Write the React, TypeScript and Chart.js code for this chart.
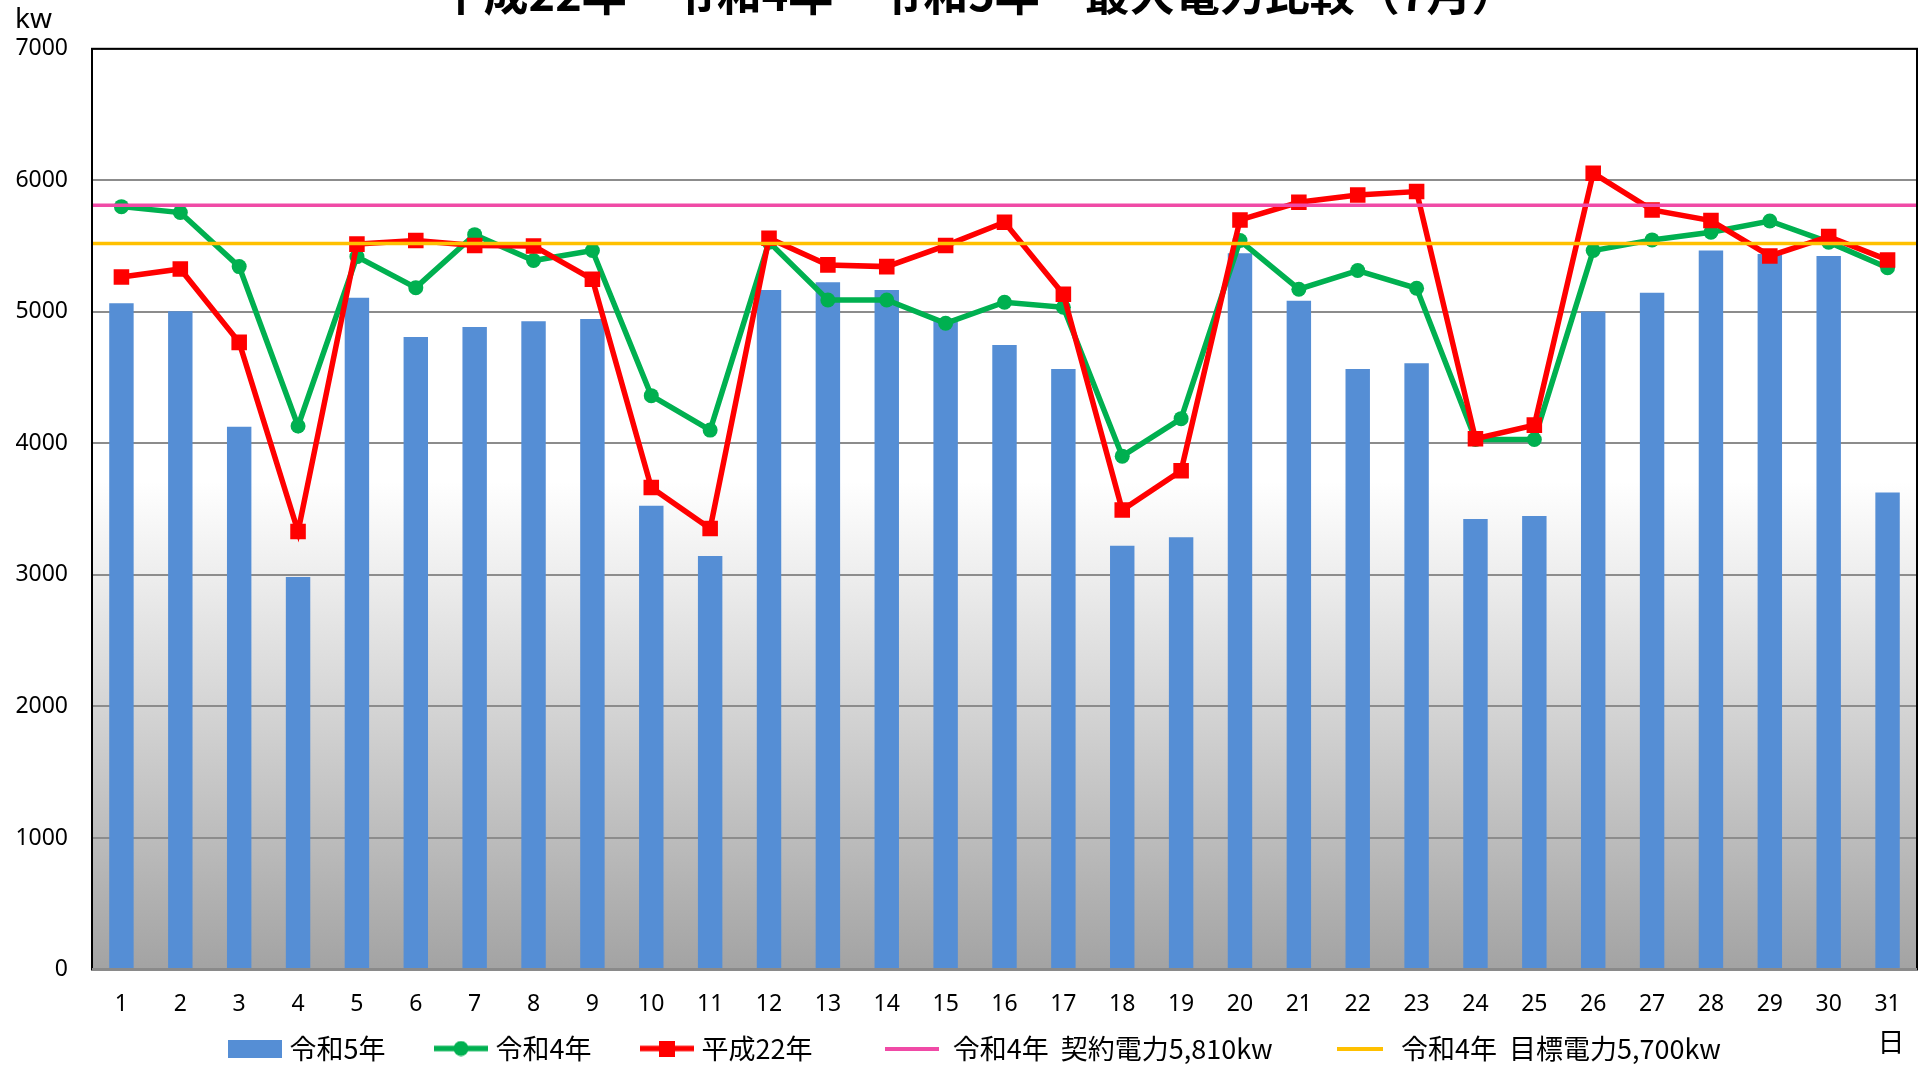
import React, { useEffect, useRef } from 'react';
import { Chart, registerables } from 'chart.js';

Chart.register(...registerables);

// ---- data ----
const days = ['1','2','3','4','5','6','7','8','9','10','11','12','13','14','15','16','17','18','19','20','21','22','23','24','25','26','27','28','29','30','31'];

const reiwa5 = [5065, 5005, 4127, 2985, 5108, 4809, 4885, 4928, 4946, 3525, 3144, 5166, 5225, 5166, 4950, 4748, 4565, 3222, 3287, 5445, 5085, 4565, 4609, 3426, 3447, 5002, 5146, 5466, 5440, 5425, 3627];
const reiwa4 = [5800, 5755, 5344, 4132, 5420, 5184, 5587, 5390, 5466, 4363, 4101, 5530, 5090, 5090, 4913, 5073, 5035, 3903, 4188, 5542, 5172, 5314, 5179, 4030, 4030, 5466, 5547, 5605, 5691, 5530, 5335];
const heisei22 = [5265, 5326, 4768, 3330, 5515, 5542, 5505, 5501, 5248, 3665, 3353, 5560, 5357, 5344, 5504, 5681, 5134, 3493, 3792, 5699, 5833, 5889, 5915, 4035, 4139, 6054, 5775, 5694, 5425, 5572, 5395];

const contractPower = [5810, 5810];
const targetPower = [5520, 5520];

const yTickValues = [0, 1000, 2000, 3000, 4000, 5000, 6000, 7000];

const seriesLabels = ['令和5年', '令和4年', '平成22年', '令和4年  契約電力5,810kw', '令和4年  目標電力5,700kw'];
const titleText = '平成22年　令和4年　令和5年　最大電力比較（7月）';

const CJK = '"Noto Sans CJK JP", "Noto Sans", sans-serif';
const LAT = '"Noto Sans", sans-serif';

const BLUE = '#558ed5';
const GREEN = '#00b050';
const RED = '#ff0000';
const PINK = '#f04aa6';
const ORANGE = '#ffc000';

const LEGEND_SHIFT_Y = 39;
const LEGEND_SHIFT_X = 10;
const TITLE_SHIFT_X = 10;

function makeIcon(kind: string): HTMLCanvasElement {
  const c = document.createElement('canvas');
  const ctx = c.getContext('2d')!;
  if (kind === 'box') {
    c.width = 54; c.height = 18;
    ctx.fillStyle = BLUE; ctx.fillRect(0, 0, 54, 18);
  } else if (kind === 'green') {
    c.width = 54; c.height = 16;
    ctx.strokeStyle = GREEN; ctx.lineWidth = 5.5;
    ctx.beginPath(); ctx.moveTo(0, 8); ctx.lineTo(54, 8); ctx.stroke();
    ctx.fillStyle = GREEN; ctx.beginPath(); ctx.arc(27, 8, 7.5, 0, Math.PI * 2); ctx.fill();
  } else if (kind === 'red') {
    c.width = 54; c.height = 16;
    ctx.strokeStyle = RED; ctx.lineWidth = 5.5;
    ctx.beginPath(); ctx.moveTo(0, 8); ctx.lineTo(54, 8); ctx.stroke();
    ctx.fillStyle = RED; ctx.fillRect(19, 0, 16, 16);
  } else if (kind === 'pink') {
    c.width = 54; c.height = 4;
    ctx.fillStyle = PINK; ctx.fillRect(0, 0, 54, 4);
  } else {
    c.width = 46; c.height = 4;
    ctx.fillStyle = ORANGE; ctx.fillRect(0, 0, 46, 4);
  }
  return c;
}

const decorPlugin = {
  id: 'decor',
  afterLayout(chart: any) {
    const lg = chart.legend;
    if (lg) {
      lg.top -= LEGEND_SHIFT_Y;
      lg.bottom -= LEGEND_SHIFT_Y;
      lg.left += LEGEND_SHIFT_X;
      lg.right += LEGEND_SHIFT_X;
    }
    const tb = chart.titleBlock;
    if (tb) {
      tb.left += TITLE_SHIFT_X;
      tb.right += TITLE_SHIFT_X;
    }
  },
  beforeDraw(chart: any) {
    const { ctx, chartArea: a } = chart;
    const g = ctx.createLinearGradient(0, a.top, 0, a.bottom);
    g.addColorStop(0, '#ffffff');
    g.addColorStop(0.47, '#ffffff');
    g.addColorStop(1, '#a3a3a3');
    ctx.save();
    ctx.fillStyle = g;
    ctx.fillRect(a.left, a.top, a.right - a.left, a.bottom - a.top);
    ctx.restore();
  },
  afterDatasetsDraw(chart: any) {
    const { ctx, chartArea: a } = chart;
    ctx.save();
    ctx.strokeStyle = '#000';
    ctx.lineWidth = 2;
    ctx.strokeRect(a.left, a.top, a.right - a.left, a.bottom - a.top);
    ctx.strokeStyle = '#8a8a8a';
    ctx.lineWidth = 3;
    ctx.beginPath();
    ctx.moveTo(a.left, a.bottom);
    ctx.lineTo(a.right, a.bottom);
    ctx.stroke();
    ctx.restore();
  },
  afterDraw(chart: any) {
    const { ctx, chartArea: a } = chart;
    ctx.save();
    ctx.fillStyle = '#000';
    ctx.font = `28px ${LAT}`;
    ctx.textAlign = 'left';
    ctx.textBaseline = 'alphabetic';
    ctx.fillText('kw', a.left - 77, a.top - 21);
    ctx.font = `27px ${CJK}`;
    ctx.textAlign = 'center';
    ctx.textBaseline = 'middle';
    ctx.fillText('日', a.right - 26, a.bottom + 72);
    ctx.restore();
  },
};

export default function App() {
  const ref = useRef<HTMLCanvasElement>(null);

  useEffect(() => {
    if (!ref.current) return;
    const icons = [makeIcon('box'), makeIcon('green'), makeIcon('red'), makeIcon('pink'), makeIcon('orange')];
    const legendTexts = [
      seriesLabels[0],
      seriesLabels[1],
      seriesLabels[2] + '    ',
      ' ' + seriesLabels[3] + '  ',
      ' ' + seriesLabels[4],
    ];
    const n = days.length;
    const chart = new Chart(ref.current, {
      type: 'bar',
      data: {
        labels: days,
        datasets: [
          {
            type: 'bar',
            label: seriesLabels[0],
            data: reiwa5,
            xAxisID: 'x',
            yAxisID: 'y',
            backgroundColor: BLUE,
            barPercentage: 0.415,
            categoryPercentage: 1,
            grouped: false,
            order: 5,
          } as any,
          {
            type: 'line',
            label: seriesLabels[1],
            data: reiwa4,
            xAxisID: 'x',
            yAxisID: 'y',
            borderColor: GREEN,
            backgroundColor: GREEN,
            borderWidth: 5.5,
            pointStyle: 'circle',
            pointRadius: 7.5,
            pointBorderWidth: 0,
            tension: 0,
            order: 4,
          },
          {
            type: 'line',
            label: seriesLabels[2],
            data: heisei22,
            xAxisID: 'x',
            yAxisID: 'y',
            borderColor: RED,
            backgroundColor: RED,
            borderWidth: 5.5,
            pointStyle: 'rect',
            pointRadius: 11,
            pointBorderWidth: 0,
            tension: 0,
            order: 3,
          },
          {
            type: 'line',
            label: seriesLabels[3],
            xAxisID: 'x2',
            yAxisID: 'y',
            data: [{ x: 0.5, y: contractPower[0] }, { x: n + 0.5, y: contractPower[1] }],
            borderColor: PINK,
            backgroundColor: PINK,
            borderWidth: 3.5,
            pointRadius: 0,
            order: 2,
          },
          {
            type: 'line',
            label: seriesLabels[4],
            xAxisID: 'x2',
            yAxisID: 'y',
            data: [{ x: 0.5, y: targetPower[0] }, { x: n + 0.5, y: targetPower[1] }],
            borderColor: ORANGE,
            backgroundColor: ORANGE,
            borderWidth: 3.5,
            pointRadius: 0,
            order: 1,
          },
        ],
      },
      options: {
        responsive: false,
        animation: false,
        events: [],
        layout: { padding: { left: 14, right: 7, top: 0, bottom: 0 } },
        scales: {
          x: {
            type: 'category',
            position: 'bottom',
            offset: true,
            grid: { display: false, drawTicks: false, offset: true },
            border: { display: false },
            ticks: {
              padding: 21,
              color: '#000',
              font: { size: 23, family: LAT },
              maxRotation: 0,
              autoSkip: false,
            },
            afterFit(s: any) { s.height = 50; },
          },
          x2: {
            type: 'linear',
            position: 'bottom',
            display: false,
            offset: false,
            grid: { offset: false },
            min: 0.5,
            max: n + 0.5,
          },
          y: {
            type: 'linear',
            position: 'left',
            min: yTickValues[0],
            max: yTickValues[yTickValues.length - 1],
            ticks: {
              stepSize: yTickValues[1] - yTickValues[0],
              padding: 24,
              color: '#000',
              font: { size: 23, family: LAT },
              callback: (v: any) => String(v),
            },
            grid: { color: '#8c8c8c', lineWidth: 2, drawTicks: false },
            border: { display: false },
            afterFit(s: any) { s.width = 78; },
          },
        },
        plugins: {
          title: {
            display: true,
            text: titleText,
            color: '#000',
            font: { size: 45, weight: 'bold', family: CJK },
            padding: { top: 0, bottom: 27.8 },
          },
          tooltip: { enabled: false },
          legend: {
            display: true,
            position: 'bottom',
            align: 'center',
            labels: {
              usePointStyle: true,
              pointStyleWidth: 42,
              color: '#000',
              font: { size: 27, family: CJK },
              padding: 54.5,
              generateLabels: () =>
                legendTexts.map((t, i) => ({
                  text: t,
                  pointStyle: icons[i],
                  datasetIndex: i,
                  hidden: false,
                  fillStyle: 'rgba(0,0,0,0)',
                  strokeStyle: 'rgba(0,0,0,0)',
                  lineWidth: 0,
                  fontColor: '#000',
                })),
            },
          },
        },
      } as any,
      plugins: [decorPlugin],
    });
    return () => chart.destroy();
  }, []);

  return (
    <div style={{ position: 'fixed', left: 0, top: 0, width: 1928, height: 1065, overflow: 'hidden', background: '#fff' }}>
      <div style={{ position: 'absolute', left: 0, top: -33, width: 1928, height: 1144 }}>
        <canvas ref={ref} width={1928} height={1144} style={{ width: 1928, height: 1144, display: 'block' }} />
      </div>
    </div>
  );
}
